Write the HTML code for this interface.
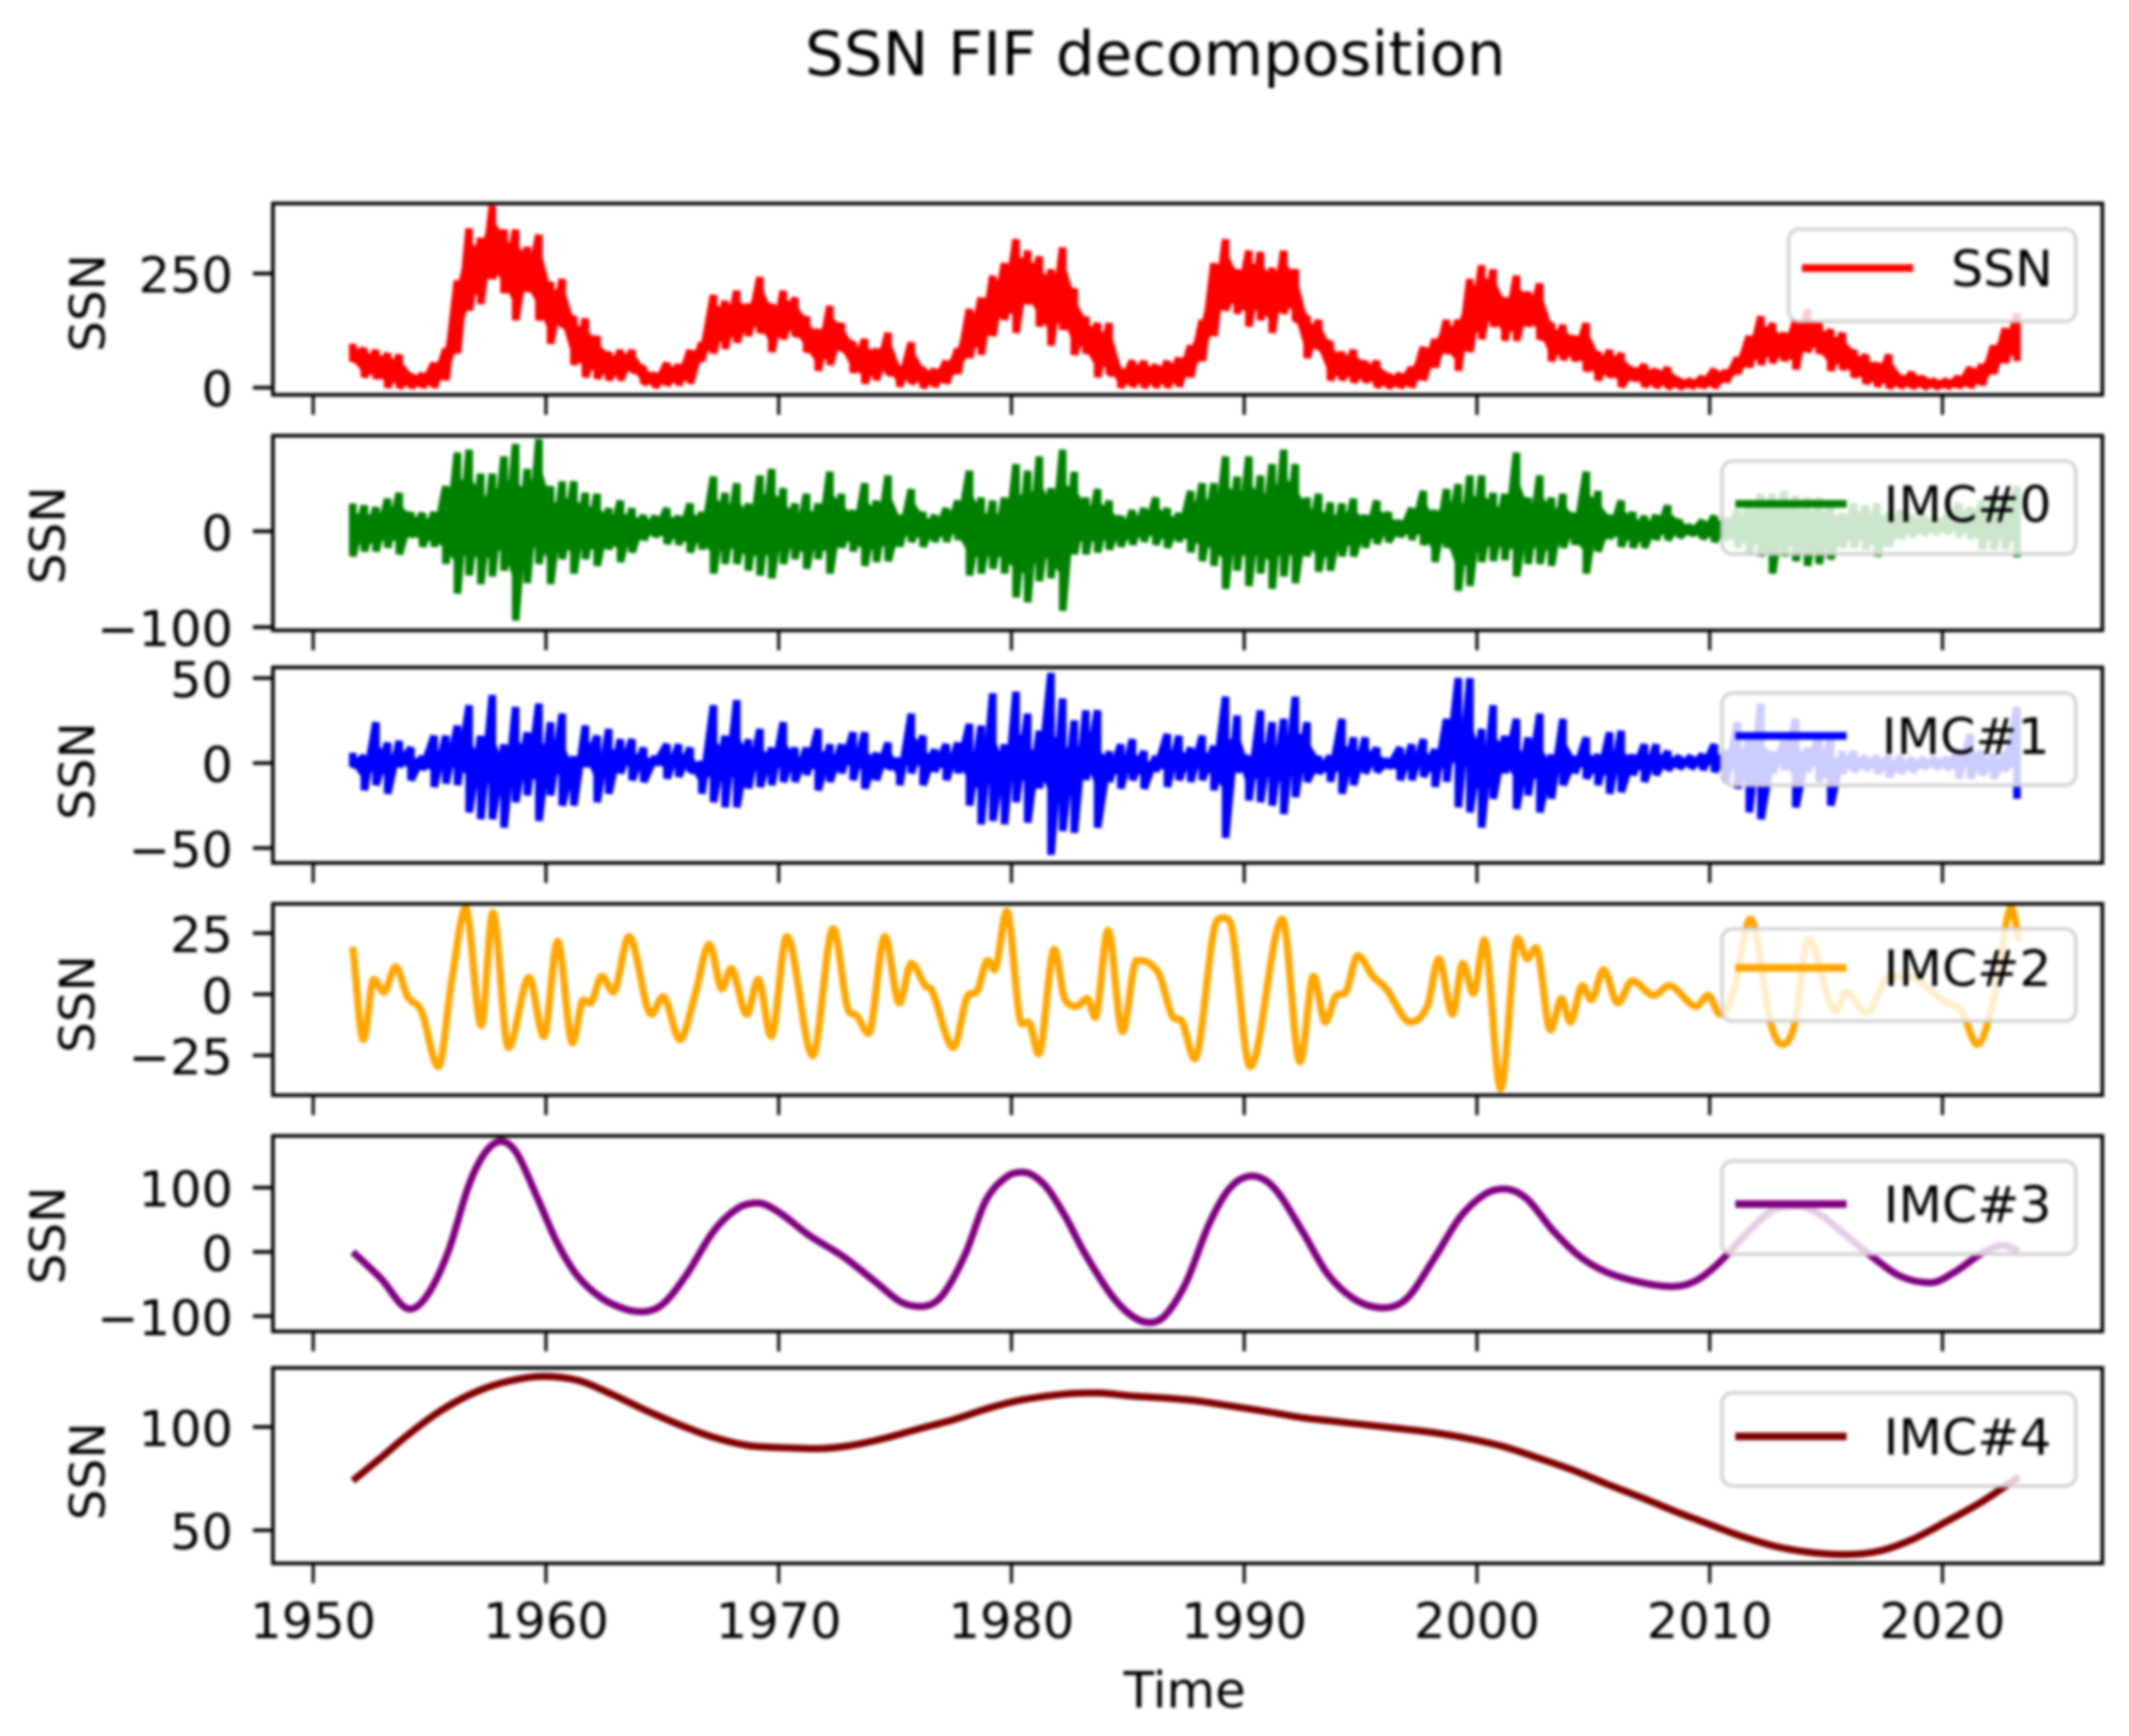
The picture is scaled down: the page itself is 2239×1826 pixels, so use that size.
<!DOCTYPE html>
<html>
<head>
<meta charset="utf-8">
<title>SSN FIF decomposition</title>
<style>
html,body{margin:0;padding:0;background:#fff;}
svg{display:block;filter:blur(1.5px);}
text{font-family:"DejaVu Sans",sans-serif;fill:#000;}
</style>
</head>
<body>
<svg id="chart" xmlns="http://www.w3.org/2000/svg" width="2239" height="1826" viewBox="0 0 2239 1826">
<rect x="0" y="0" width="2239" height="1826" fill="#fff"/>
<text x="1215" y="79" font-size="64.4" text-anchor="middle">SSN FIF decomposition</text>
<text x="1246" y="1796" font-size="52.5" text-anchor="middle">Time</text>
</svg>
<script>
const xTicks = [1950, 1960, 1970, 1980, 1990, 2000, 2010, 2020];
const startYear = 1951.7;
const stepYears = 0.5;

const ssnUpper = [96,85,82,75,72,30,30,54,85,235,
349,328,398,346,346,308,335,231,238,155,
151,113,78,82,82,44,30,54,50,82,
99,203,190,212,183,242,183,212,197,155,
127,179,141,99,106,85,120,44,99,44,
40,58,85,172,197,245,273,325,300,287,
259,307,217,155,141,141,40,59,58,50,
58,65,92,148,273,325,259,300,297,262,
300,259,155,148,99,78,82,58,58,30,
30,44,89,106,148,148,238,268,259,197,
245,210,228,141,137,113,141,78,82,75,
44,50,40,44,19,16,23,40,37,65,
113,156,141,120,148,172,141,127,120,82,
72,54,72,26,33,23,16,16,23,44,
50,92,130,162];
const ssnLower = [58,23,20,0,0,0,0,0,16,75,
169,183,238,207,148,210,148,96,134,50,
23,20,16,16,37,9,0,5,5,9,
58,75,85,99,113,120,78,106,113,78,
37,50,82,33,9,16,30,2,9,0,
2,9,30,65,72,113,148,120,183,134,
92,127,72,75,23,30,0,2,0,0,
0,2,23,58,113,169,162,134,148,120,
162,148,65,85,16,16,12,12,2,0,
0,0,16,44,75,37,78,106,134,103,
103,134,106,58,61,58,37,16,23,2,
16,2,0,0,0,0,0,0,12,30,
44,50,54,58,40,78,75,37,40,23,
9,2,0,0,0,0,0,0,0,0,
5,30,54,58];

const imc0Upper = [29,27,25,34,40,20,19,20,47,82,
85,60,60,78,91,65,96,47,52,52,
40,39,24,32,24,17,16,24,16,29,
20,57,40,50,29,58,65,45,29,39,
29,62,39,22,50,32,58,17,44,20,
17,24,32,63,35,32,35,70,63,78,
45,85,62,35,44,32,16,22,24,35,
24,19,42,50,50,78,57,78,58,70,
85,70,35,39,30,29,34,17,32,20,
11,24,42,22,44,49,58,58,40,39,
82,35,58,35,39,19,62,42,17,32,
20,16,17,27,12,6,11,16,14,22,
29,39,39,42,37,35,35,30,19,29,
27,29,19,22,17,17,14,17,29,25,
32,39,39,47];
const imc0Lower = [-26,-21,-21,-17,-24,-6,-16,-16,-34,-65,
-46,-55,-47,-41,-93,-54,-34,-55,-29,-44,
-29,-36,-19,-32,-22,-9,-6,-13,-14,-22,
-19,-44,-34,-34,-41,-46,-49,-34,-29,-39,
-29,-44,-17,-21,-36,-32,-31,-16,-11,-16,
-11,-11,-9,-46,-44,-39,-44,-69,-74,-52,
-49,-83,-24,-24,-22,-19,-16,-14,-11,-14,
-17,-11,-22,-31,-36,-60,-41,-57,-44,-60,
-47,-54,-26,-42,-41,-26,-26,-17,-13,-11,
-6,-9,-14,-32,-17,-62,-57,-32,-31,-30,
-47,-34,-34,-36,-17,-14,-44,-21,-8,-16,
-17,-17,-9,-9,-6,-4,-8,-11,-9,-17,
-24,-26,-44,-26,-31,-36,-34,-29,-17,-17,
-19,-26,-16,-8,-6,-4,-3,-3,-6,-8,
-19,-19,-19,-27];

const imc1Upper = [6,4,24,12,13,9,4,16,16,22,
34,16,40,11,33,18,35,24,29,4,
22,16,20,14,14,9,4,11,11,9,
0,34,16,37,14,20,9,24,9,9,
20,11,11,18,18,6,12,2,29,16,
8,11,12,23,22,41,11,42,29,19,
53,38,25,31,31,7,11,14,7,4,
17,16,9,16,10,39,28,4,31,24,
26,39,24,4,4,26,15,15,9,2,
9,11,14,8,26,50,50,20,34,16,
26,15,29,5,26,4,15,5,18,19,
5,11,11,7,4,4,5,11,7,24,
15,35,7,13,26,9,17,15,7,7,
4,4,4,4,3,3,3,3,8,17,
7,5,6,33];
const imc1Lower = [-2,-16,-13,-18,-2,-10,-4,-14,-12,-13,
-29,-33,-33,-38,-23,-19,-34,-19,-25,-25,
-2,-23,-18,-6,-10,-11,-1,-9,-8,-5,
-18,-23,-26,-26,-15,-14,-13,-11,-11,-7,
-16,-11,-6,-10,-15,-10,-3,-13,-6,-13,
-5,-10,-6,-25,-36,-34,-36,-23,-35,-15,
-54,-40,-41,-10,-38,-11,-15,-10,-15,-5,
-14,-10,-11,-10,-16,-44,-5,-22,-23,-25,
-30,-20,-11,-6,-11,-18,-13,-6,-5,-3,
-10,-10,-8,-14,-11,-26,-29,-38,-21,-6,
-27,-19,-29,-21,-13,-6,-9,-13,-18,-17,
-7,-11,-7,-4,-3,-3,-4,-5,-11,-15,
-29,-33,-6,-4,-26,-5,-11,-25,-6,-5,
-4,-6,-8,-6,-5,-3,-3,-4,-9,-9,
-7,-9,-5,-21];

const imc2Years = [1951.7,1952.16,1952.6,1953.04,1953.54,1954.06,1954.65,1955.38,1955.96,1956.55,1957.22,1957.72,1958.39,1959.27,1959.91,1960.5,1961.14,1961.61,1961.9,1962.4,1962.89,1963.57,1964.53,1965.03,1965.76,1966.4,1967.02,1967.57,1967.95,1968.63,1969.12,1969.68,1970.35,1971.46,1972.34,1973.01,1973.36,1973.86,1974.56,1975.18,1975.7,1976.29,1976.58,1977.51,1978.1,1978.54,1978.98,1979.27,1979.8,1980.44,1980.73,1981.17,1981.84,1982.3,
1982.81,1983.25,1983.6,1984.15,1984.77,1985.38,1986.32,1986.9,1987.34,1987.87,1988.8,1989.1,1989.39,1990.26,1991.64,1992.4,1992.98,1993.48,1993.92,1994.36,1994.88,1995.53,1996.11,1997.13,1997.87,1998.36,1998.95,1999.39,1999.85,2000.32,2001.02,2001.75,2002.16,2002.54,2003.16,2003.63,2004.01,2004.53,2004.91,2005.44,2006.05,2006.67,2007.6,2008.25,2009.42,2009.94,2010.44,2011.02,2011.75,2012.63,2013.13,2013.65,2014.24,2015.41,2015.85,2016.73,2017.75,2018.48,2020.09,2020.82,2021.49,2022.28,2022.95,2023.3];
const imc2Values = [19.4,-18.6,6.1,0.9,11.3,-1,-6.9,-29.6,6.1,35.3,-12.7,33.4,-21.8,6.8,-17.3,21.7,-19.9,-2.3,-3.6,7.4,0.9,23.6,-8.2,-1,-18.6,-0.4,20.4,2.2,10.6,-8.2,6.1,-17.3,23.6,-25.1,26.9,-6.9,-8.8,-16,23.6,-3.6,12.6,3.5,1.6,-21.8,-1,1.6,13.9,10,34,-12.1,-11.4,-24.4,18.4,-2.2,
-4.9,-1.7,-9.5,26.2,-15.3,13.9,8.7,-8.8,-11.4,-26.4,29.5,31.3,29.5,-29.6,30.8,-27.7,7.4,-11.4,-1,0.9,15.8,7.4,2.2,-11.4,-4.9,14.5,-8.2,12.6,0.3,22.3,-38.7,23,14.5,19.1,-14.7,-1.7,-11.4,3.5,-2.3,10,-3.6,5.5,-0.4,3.5,-4.9,-0.4,-8.2,0.9,30.8,-12.1,-20.5,-12.1,22.3,-6.9,0.9,-7.5,7.4,7.4,-3,-6.9,-20.5,0.9,35.3,21.7];

const imc3Years = [1951.7,1952.9,1954.15,1954.93,1955.8,1956.7,1957.4,1958.07,1958.74,1959.6,1960.5,1961.37,1962.4,1963.4,1964.15,1965.03,1966.05,1967.2,1968.25,1969.1,1970,1971.3,1972.8,1974.2,1975.25,1976.1,1977,1978,1978.9,1979.8,1980.5,1981.4,1982.3,1983.1,1984.27,1985.15,1985.94,1986.6,1987.5,1988.5,1989.4,1990.35,1991.3,1992.5,1993.6,1994.8,1996,1997,1998.15,1999.3,2000.35,2001.15,2002.1,2003.3,2004.45,2005.6,2007.1,2008.4,2009.4,2010.4,2011.75,2012.9,2013.8,2014.7,2015.85,2017,2018.2,2019.5,2020.5,2021.7,2022.6,2023.3];
const imc3Values = [0,-41,-89,-66,0,105,155,172,154,87,13,-38,-72,-89,-93,-81,-35,32,68,76,62,26,-8,-48,-78,-85,-69,-5,80,117,124,105,56,1,-66,-99,-110,-99,-48,44,100,118,99,32,-35,-75,-87,-72,-11,55,90,98,84,32,-8,-32,-48,-54,-45,-17,35,68,71,59,26,-8,-38,-48,-32,-2,10,1];

const imc4Years = [1951.7,1952.9,1954.05,1955.5,1957,1958.45,1959.9,1961.4,1962.8,1964.3,1965.75,1967.2,1968.7,1970.15,1971.6,1973.1,1974.55,1976,1977.5,1979,1980.4,1982.35,1983.7,1985.15,1986.6,1988.05,1989.5,1991,1992.5,1993.9,1995.4,1996.85,1998.3,1999.8,2001.2,2002.7,2004.15,2005.6,2007.1,2008.55,2010,2011.45,2012.9,2014.4,2015.85,2017.3,2018.75,2020.2,2021.7,2023.3];
const imc4Values = [74,85,96,108,117,122.3,124.5,122.5,116,108,101,95,91,90,89.5,91,94.5,99,103.5,109,113,116,116.5,115,114,112.5,110,107.4,104.5,102.7,100.8,99,97,94,90.3,84.7,79,72.3,65.7,59,52.8,46.8,42,39.2,38.3,40,45.8,54.4,63.8,76];

const ssnYTicks = [0, 250];
const imc0YTicks = [-100, 0];
const imc1YTicks = [-50, 0, 50];
const imc2YTicks = [-25, 0, 25];
const imc3YTicks = [-100, 0, 100];
const imc4YTicks = [50, 100];

const NS = 'http://www.w3.org/2000/svg';
const svg = document.getElementById('chart');
const xLo = 1948.27, xHi = 2026.87, plotLeft = 287, plotRight = 2211;
function xScale(year) { return plotLeft + (year - xLo) / (xHi - xLo) * (plotRight - plotLeft); }
function make(tag, attrs, parent) {
  const el = document.createElementNS(NS, tag);
  for (const k in attrs) el.setAttribute(k, attrs[k]);
  (parent || svg).appendChild(el);
  return el;
}
function fmt(v) { return String(v).replace('-', '\u2212'); }
function zigzagPath(upper, lower, x, y) {
  const pts = [];
  upper.forEach((v, i) => {
    const px = x(startYear + i * stepYears).toFixed(1);
    pts.push(px + ' ' + y(v).toFixed(1));
    pts.push(px + ' ' + y(lower[i]).toFixed(1));
  });
  return 'M' + pts.join('L');
}
function corePath(upper, lower, fraction, x, y) {
  const at = (i, side) => {
    const mid = (upper[i] + lower[i]) / 2;
    const half = (upper[i] - lower[i]) / 2;
    return x(startYear + i * stepYears).toFixed(1) + ' ' + y(mid + side * half * fraction).toFixed(1);
  };
  const top = upper.map((v, i) => at(i, 1));
  const bot = upper.map((v, i) => at(i, -1)).reverse();
  return 'M' + top.concat(bot).join('L') + 'Z';
}
function smoothPath(years, values, x, y) {
  const pts = years.map((t, i) => [x(t), y(values[i])]);
  const n = pts.length;
  const slopes = [];
  for (let i = 0; i < n - 1; i++) slopes.push((pts[i + 1][1] - pts[i][1]) / (pts[i + 1][0] - pts[i][0]));
  const tangents = pts.map((p, i) => {
    if (i === 0) return slopes[0];
    if (i === n - 1) return slopes[n - 2];
    const a = slopes[i - 1], b = slopes[i];
    if (a * b <= 0) return 0;
    const central = (pts[i + 1][1] - pts[i - 1][1]) / (pts[i + 1][0] - pts[i - 1][0]);
    const limit = 3 * Math.min(Math.abs(a), Math.abs(b));
    return Math.sign(central) * Math.min(Math.abs(central), limit);
  });
  let d = 'M' + pts[0][0].toFixed(1) + ' ' + pts[0][1].toFixed(1);
  for (let i = 0; i < n - 1; i++) {
    const h = (pts[i + 1][0] - pts[i][0]) / 3;
    d += 'C' + (pts[i][0] + h).toFixed(1) + ' ' + (pts[i][1] + tangents[i] * h).toFixed(1) + ' ' +
      (pts[i + 1][0] - h).toFixed(1) + ' ' + (pts[i + 1][1] - tangents[i + 1] * h).toFixed(1) + ' ' +
      pts[i + 1][0].toFixed(1) + ' ' + pts[i + 1][1].toFixed(1);
  }
  return d;
}

function panel(opt) {
  const g = make('g', {});
  
  
  const y = v => opt.bottom - (v - opt.lo) / (opt.hi - opt.lo) * (opt.bottom - opt.top);

  const clip = make('clipPath', { id: 'clip-' + opt.name }, g);
  make('rect', { x: plotLeft, y: opt.top, width: plotRight - plotLeft, height: opt.bottom - opt.top }, clip);

  let d, attrs;
  if (opt.upper) {
    const core = make('path', { d: corePath(opt.upper, opt.lower, opt.core, xScale, y), fill: opt.color, stroke: opt.color, 'stroke-width': 4, 'stroke-linejoin': 'round', 'clip-path': 'url(#clip-' + opt.name + ')' }, g);
    
    
    d = zigzagPath(opt.upper, opt.lower, xScale, y);
    attrs = { d: d, fill: 'none', stroke: opt.color, 'stroke-width': 8, 'stroke-linejoin': 'bevel', 'clip-path': 'url(#clip-' + opt.name + ')' };
  } else {
    d = smoothPath(opt.years, opt.values, xScale, y);
    attrs = { d: d, fill: 'none', stroke: opt.color, 'stroke-width': 7.5, 'stroke-linejoin': 'round', 'clip-path': 'url(#clip-' + opt.name + ')' };
  }
  const line = make('path', attrs, g);
  
  

  xTicks.forEach(t => {
    const tick = make('line', { x1: xScale(t), x2: xScale(t), y1: opt.bottom, y2: opt.bottom + 21, stroke: '#000', 'stroke-width': 3.2 }, g);
    
    
    if (opt.xLabels) {
      const lab = make('text', { x: xScale(t), y: 1723, 'font-size': 52, 'text-anchor': 'middle' }, g);
      
      
      lab.textContent = t;
    }
  });

  opt.yTicks.forEach(v => {
    const tick = make('line', { x1: plotLeft - 21, x2: plotLeft, y1: y(v), y2: y(v), stroke: '#000', 'stroke-width': 3.8 }, g);
    
    
    const lab = make('text', { x: 245, y: y(v) + 20, 'font-size': 52, 'text-anchor': 'end' }, g);
    
    
    lab.textContent = fmt(v);
  });

  const yLab = make('text', { x: 0, y: 0, 'font-size': 51, 'text-anchor': 'middle', transform: 'translate(' + opt.ylabelX + ' ' + opt.ylabelY + ') rotate(-90)' }, g);
  
  
  yLab.textContent = 'SSN';

  const frame = make('rect', { x: plotLeft, y: opt.top, width: plotRight - plotLeft, height: opt.bottom - opt.top, fill: 'none', stroke: '#000', 'stroke-width': 3.8 }, g);
  
  

  const leg = make('g', {}, g);
  
  
  make('rect', { x: opt.lx, y: opt.ly, width: 2183 - opt.lx, height: opt.lh, rx: 11, ry: 11, fill: 'rgba(255,255,255,0.8)', stroke: 'rgba(204,204,204,0.85)', 'stroke-width': 3.8 }, leg);
  const swatch = make('line', { x1: opt.lx + 14, x2: opt.lx + 131, y1: opt.ly + opt.lineDy, y2: opt.ly + opt.lineDy, stroke: opt.color, 'stroke-width': 8 }, leg);
  
  
  const label = make('text', { x: opt.lx + opt.textDx, y: opt.ly + opt.lineDy + 19, 'font-size': 53 }, leg);
  
  
  label.textContent = opt.label;
}

panel({ name: 'ssn', label: 'SSN', color: '#ff0000', upper: ssnUpper, lower: ssnLower, core: 0.6, yTicks: ssnYTicks,
  top: 214, bottom: 415.3, lo: -15.8, hi: 403.5, ylabelX: 110, ylabelY: 318.7,
  lx: 1881, ly: 241, lh: 97, lineDy: 41, textDx: 171 });
panel({ name: 'imc0', label: 'IMC#0', color: '#008000', upper: imc0Upper, lower: imc0Lower, core: 0.55, yTicks: imc0YTicks,
  top: 458.3, bottom: 663, lo: -103.3, hi: 99.7, ylabelX: 68, ylabelY: 563,
  lx: 1811, ly: 485, lh: 97.7, lineDy: 45, textDx: 170 });
panel({ name: 'imc1', label: 'IMC#1', color: '#0000ff', upper: imc1Upper, lower: imc1Lower, core: 0.3, yTicks: imc1YTicks,
  top: 702, bottom: 907.7, lo: -58.8, hi: 56.3, ylabelX: 99, ylabelY: 811,
  lx: 1811, ly: 729, lh: 97, lineDy: 45, textDx: 168 });
panel({ name: 'imc2', label: 'IMC#2', color: '#ffa500', years: imc2Years, values: imc2Values, yTicks: imc2YTicks,
  top: 950.7, bottom: 1152, lo: -41.3, hi: 37, ylabelX: 99, ylabelY: 1056,
  lx: 1811, ly: 977, lh: 97, lineDy: 41, textDx: 170 });
panel({ name: 'imc3', label: 'IMC#3', color: '#800080', years: imc3Years, values: imc3Values, yTicks: imc3YTicks,
  top: 1194.8, bottom: 1400.4, lo: -123.7, hi: 180.5, ylabelX: 68, ylabelY: 1299.5,
  lx: 1811, ly: 1221.2, lh: 98, lineDy: 45.3, textDx: 170 });
panel({ name: 'imc4', label: 'IMC#4', color: '#800000', years: imc4Years, values: imc4Values, yTicks: imc4YTicks, xLabels: true,
  top: 1438.8, bottom: 1644.4, lo: 34, hi: 128.6, ylabelX: 110, ylabelY: 1547.5,
  lx: 1811, ly: 1465, lh: 98, lineDy: 45.9, textDx: 170 });
</script>
</body>
</html>
